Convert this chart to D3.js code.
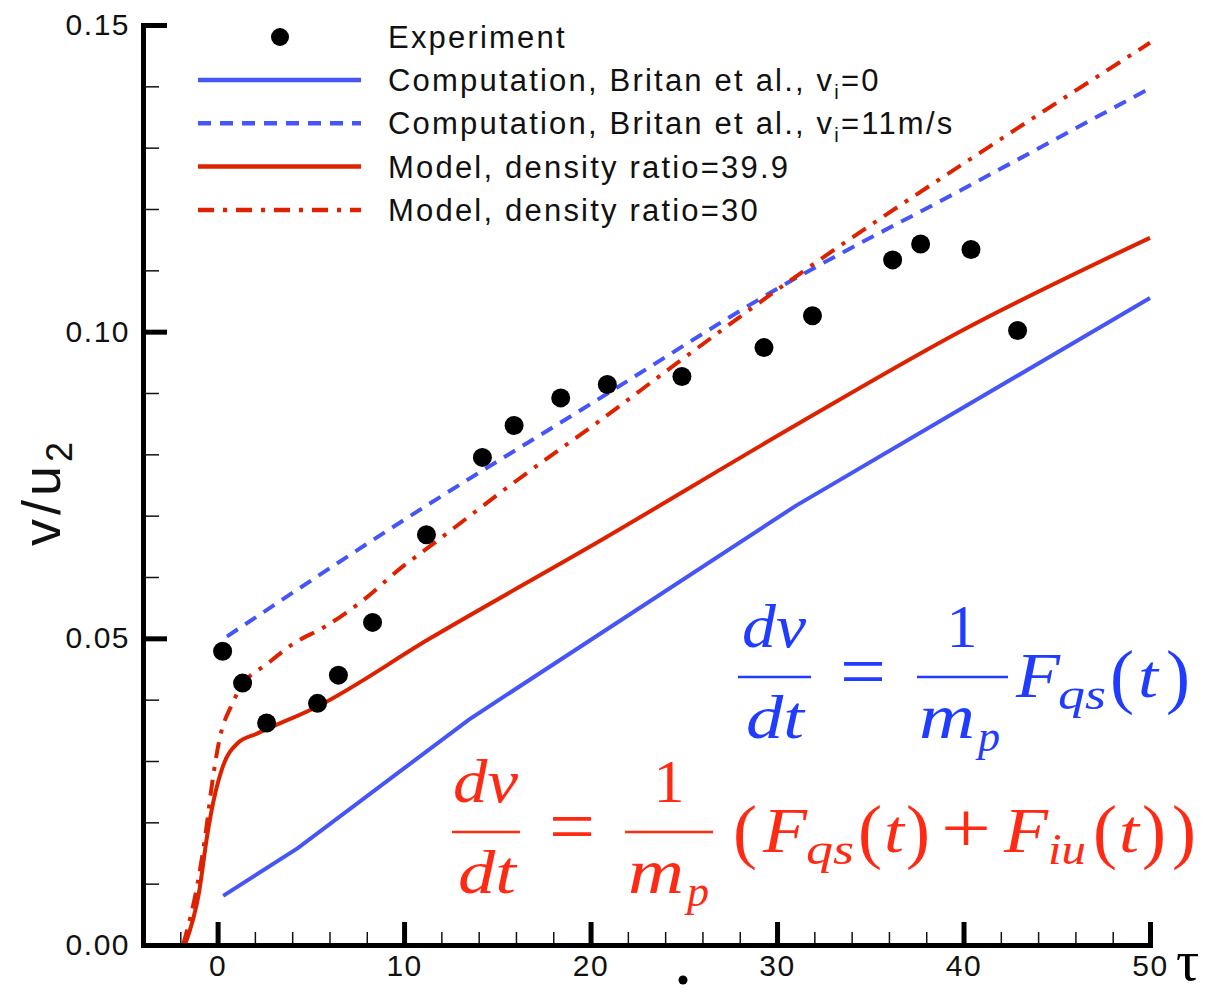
<!DOCTYPE html>
<html>
<head>
<meta charset="utf-8">
<script src="https://cdn.jsdelivr.net/npm/d3@7"></script>
<style>
  body { margin: 0; background: #fff; }
  .lbl { font-family: "Liberation Sans", Arial, sans-serif; fill: #111; }
  .math { font-family: "Liberation Serif", "Times New Roman", serif; }
</style>
</head>
<body>
<div id="chart"></div>
<script>
// experiment (black dots)
var expT = [0.27, 1.34, 2.63, 5.36, 6.48, 8.31, 11.2, 14.2, 15.9, 18.4, 20.9, 24.9, 29.3, 31.9, 36.2, 37.7, 40.4, 42.9];
var expV = [0.0479, 0.0427, 0.0362, 0.0394, 0.0440, 0.0526, 0.0669, 0.0795, 0.0847, 0.0892, 0.0914, 0.0927, 0.0974, 0.1026, 0.1117, 0.1143, 0.1134, 0.1002];

// Computation, Britan et al., vi=0
var britan0T = [0.3, 4.3, 13.5, 31.0, 50];
var britan0V = [0.0080, 0.0158, 0.0368, 0.0716, 0.1055];

// Computation, Britan et al., vi=11m/s
var britan11T = [0.5, 10.2, 20, 30.3, 40, 50];
var britan11V = [0.0503, 0.0697, 0.0882, 0.1075, 0.1233, 0.1397];

// Model, density ratio=39.9
var model399T = [-1.75, -1.0, -0.54, -0.21, 0.27, 1.07, 2.14, 5.36, 11.4, 20, 31.2, 40, 50];
var model399V = [0, 0.0085, 0.0182, 0.0236, 0.029, 0.0329, 0.0345, 0.0389, 0.0500, 0.0650, 0.0851, 0.1003, 0.1153];

// Model, density ratio=30
var model30T = [-1.85, -1.07, -0.64, -0.3, 0.1, 0.75, 1.4, 2.6, 4.1, 5.7, 7.8, 9.8, 11.25, 15.8, 20.5, 24.65, 31.2, 41.6, 50];
var model30V = [0, 0.0101, 0.0182, 0.0262, 0.0335, 0.0391, 0.0427, 0.0457, 0.0492, 0.0518, 0.0562, 0.0614, 0.0647, 0.0752, 0.0855, 0.0949, 0.1094, 0.1306, 0.1471];

var xMajor = [0, 10, 20, 30, 40, 50];
var yMajor = [0, 0.05, 0.10, 0.15];

var blue = "#4655f5", red = "#dd2200";
var eqBlueColor = "#1f3cff", eqRedColor = "#ff2a14";

var width = 1215, height = 992;

var x = d3.scaleLinear().domain([-4, 50]).range([143, 1150]);
var y = d3.scaleLinear().domain([0, 0.15]).range([945, 25]);

var svg = d3.select("#chart")
  .append("svg")
  .attr("width", width)
  .attr("height", height)
  .style("background", "#fff");

svg.append("clipPath").attr("id", "plotClip")
  .append("rect")
  .attr("x", x(-4)).attr("y", y(0.15) - 10)
  .attr("width", x(50) - x(-4) + 5).attr("height", y(0) - y(0.15) + 10);

function zip(ts, vs) {
  return ts.map(function(t, i) { return [t, vs[i]]; });
}

var line = d3.line()
  .x(function(d) { return x(d[0]); })
  .y(function(d) { return y(d[1]); });

var plot = svg.append("g").attr("clip-path", "url(#plotClip)");

var series = [
  { pts: zip(britan0T, britan0V), color: blue, dash: null, curve: d3.curveLinear },
  { pts: zip(britan11T, britan11V), color: blue, dash: "13,9", curve: d3.curveMonotoneX },
  { pts: zip(model399T, model399V), color: red, dash: null, curve: d3.curveMonotoneX },
  { pts: zip(model30T, model30V), color: red, dash: "16,9,4,9", curve: d3.curveMonotoneX }
];

series.forEach(function(s) {
  plot.append("path")
    .attr("d", line.curve(s.curve)(s.pts))
    .attr("fill", "none")
    .attr("stroke", s.color)
    .attr("stroke-width", 4)
    .attr("stroke-dasharray", s.dash);
});

// experiment dots
svg.selectAll(".dot")
  .data(zip(expT, expV))
  .enter()
  .append("circle")
  .attr("class", "dot")
  .attr("cx", function(d) { return x(d[0]); })
  .attr("cy", function(d) { return y(d[1]); })
  .attr("r", 9.5)
  .attr("fill", "#000");

// minor ticks
var yMinor = svg.append("g")
  .attr("transform", "translate(" + x(-4) + ",0)")
  .call(d3.axisLeft(y).tickValues(d3.range(0, 0.1501, 0.01)).tickSize(-16).tickFormat(""));
yMinor.select(".domain").remove();
yMinor.selectAll(".tick line").attr("stroke", "#111").attr("stroke-width", 1.5);

var xMinor = svg.append("g")
  .attr("transform", "translate(0," + y(0) + ")")
  .call(d3.axisBottom(x).tickValues(d3.range(-2, 50, 2)).tickSize(-13).tickFormat(""));
xMinor.select(".domain").remove();
xMinor.selectAll(".tick line").attr("stroke", "#111").attr("stroke-width", 1.5);

// major ticks + axis lines
var yAxis = svg.append("g")
  .attr("transform", "translate(" + x(-4) + ",0)")
  .call(d3.axisLeft(y).tickValues(yMajor).tickSize(-24).tickSizeOuter(0).tickPadding(13)
    .tickFormat(d3.format(".2f")));

var xAxis = svg.append("g")
  .attr("transform", "translate(0," + y(0) + ")")
  .call(d3.axisBottom(x).tickValues(xMajor).tickSize(-23).tickSizeOuter(0).tickPadding(10));

[yAxis, xAxis].forEach(function(a) {
  a.select(".domain").attr("stroke", "#000").attr("stroke-width", 5).attr("stroke-linecap", "square");
  a.selectAll(".tick line").attr("stroke", "#000").attr("stroke-width", 5);
  a.selectAll(".tick text")
    .attr("class", "lbl")
    .style("font-size", "30px")
    .style("letter-spacing", "1.5px")
    .attr("fill", "#111");
});

// axis titles
svg.append("text")
  .attr("class", "lbl")
  .attr("transform", "translate(60,492) rotate(-90)")
  .attr("text-anchor", "middle")
  .style("font-size", "54px")
  .style("letter-spacing", "4px")
  .text("v/u")
  .append("tspan")
  .attr("dy", 12)
  .style("font-size", "36px")
  .text("2");

svg.append("text")
  .attr("class", "math")
  .attr("x", 1176)
  .attr("y", 980)
  .style("font-size", "58px")
  .attr("fill", "#000")
  .text("τ");

// stray dot below the axis
svg.append("circle")
  .attr("cx", 683)
  .attr("cy", 980)
  .attr("r", 4.5)
  .attr("fill", "#000");

// legend
var legendItems = [
  { label: "Computation, Britan et al., v", sub: "i", tail: "=0", color: blue, dash: null },
  { label: "Computation, Britan et al., v", sub: "i", tail: "=11m/s", color: blue, dash: "13,9" },
  { label: "Model, density ratio=39.9", color: red, dash: null },
  { label: "Model, density ratio=30", color: red, dash: "16,9,4,9" }
];
var legend = svg.append("g");
legend.append("circle").attr("cx", 280).attr("cy", 37).attr("r", 9).attr("fill", "#000");
legend.append("text").attr("class", "lbl").attr("x", 388).attr("y", 48)
  .style("font-size", "31px").style("letter-spacing", "2.2px").text("Experiment");

legendItems.forEach(function(d, i) {
  var ly = 80 + i * 43.3;
  legend.append("line")
    .attr("x1", 198).attr("x2", 361)
    .attr("y1", ly).attr("y2", ly)
    .attr("stroke", d.color)
    .attr("stroke-width", 4.5)
    .attr("stroke-dasharray", d.dash);
  var t = legend.append("text").attr("class", "lbl")
    .attr("x", 388).attr("y", ly + 11)
    .style("font-size", "31px").style("letter-spacing", "2.2px")
    .text(d.label);
  if (d.sub) {
    t.append("tspan").attr("dy", 8).style("font-size", "20px").text(d.sub);
    t.append("tspan").attr("dy", -8).text(d.tail);
  }
});

// equations
function mathPiece(g, str, px, py, size, italic, anchor, len) {
  var t = g.append("text")
    .attr("class", "math")
    .attr("x", px).attr("y", py)
    .attr("text-anchor", anchor || "start")
    .style("font-size", size + "px")
    .style("font-style", italic ? "italic" : "normal")
    .text(str);
  if (len) t.attr("textLength", len).attr("lengthAdjust", "spacingAndGlyphs");
}
function bar(g, x1, x2, by, color) {
  g.append("line").attr("x1", x1).attr("x2", x2).attr("y1", by).attr("y2", by)
    .attr("stroke", color).attr("stroke-width", 2.5);
}

var eqBlue = svg.append("g").attr("fill", eqBlueColor);
bar(eqBlue, 738, 811, 677, eqBlueColor);
mathPiece(eqBlue, "dv", 742, 647, 62, true, "start", 64);
mathPiece(eqBlue, "dt", 746, 738, 62, true, "start", 58);
mathPiece(eqBlue, "=", 863, 697, 76, false, "middle", 46);
bar(eqBlue, 917, 1008, 677, eqBlueColor);
mathPiece(eqBlue, "1", 962, 647, 62, false, "middle");
mathPiece(eqBlue, "m", 919, 738, 64, true, "start", 56);
mathPiece(eqBlue, "p", 978, 751, 44, true);
mathPiece(eqBlue, "F", 1016, 697, 64, true, "start", 44);
mathPiece(eqBlue, "qs", 1058, 709, 44, true, "start", 48);
mathPiece(eqBlue, "(", 1110, 700, 72, false);
mathPiece(eqBlue, "t", 1138, 697, 62, true, "start", 20);
mathPiece(eqBlue, ")", 1166, 700, 72, false);

var eqRed = svg.append("g").attr("fill", eqRedColor);
bar(eqRed, 452, 520, 832, eqRedColor);
mathPiece(eqRed, "dv", 453, 802, 62, true, "start", 65);
mathPiece(eqRed, "dt", 458, 893, 62, true, "start", 58);
mathPiece(eqRed, "=", 572, 852, 76, false, "middle", 46);
bar(eqRed, 625, 713, 832, eqRedColor);
mathPiece(eqRed, "1", 669, 802, 62, false, "middle");
mathPiece(eqRed, "m", 628, 893, 64, true, "start", 56);
mathPiece(eqRed, "p", 687, 906, 44, true);
mathPiece(eqRed, "(", 733, 855, 72, false);
mathPiece(eqRed, "F", 763, 852, 64, true, "start", 44);
mathPiece(eqRed, "qs", 806, 864, 44, true, "start", 48);
mathPiece(eqRed, "(", 858, 855, 72, false);
mathPiece(eqRed, "t", 884, 852, 62, true, "start", 20);
mathPiece(eqRed, ")", 906, 855, 72, false);
mathPiece(eqRed, "+", 966, 852, 72, false, "middle", 50);
mathPiece(eqRed, "F", 1004, 852, 64, true, "start", 44);
mathPiece(eqRed, "iu", 1048, 864, 44, true, "start", 38);
mathPiece(eqRed, "(", 1093, 855, 72, false);
mathPiece(eqRed, "t", 1119, 852, 62, true, "start", 20);
mathPiece(eqRed, ")", 1142, 855, 72, false);
mathPiece(eqRed, ")", 1172, 855, 72, false);
</script>
</body>
</html>
